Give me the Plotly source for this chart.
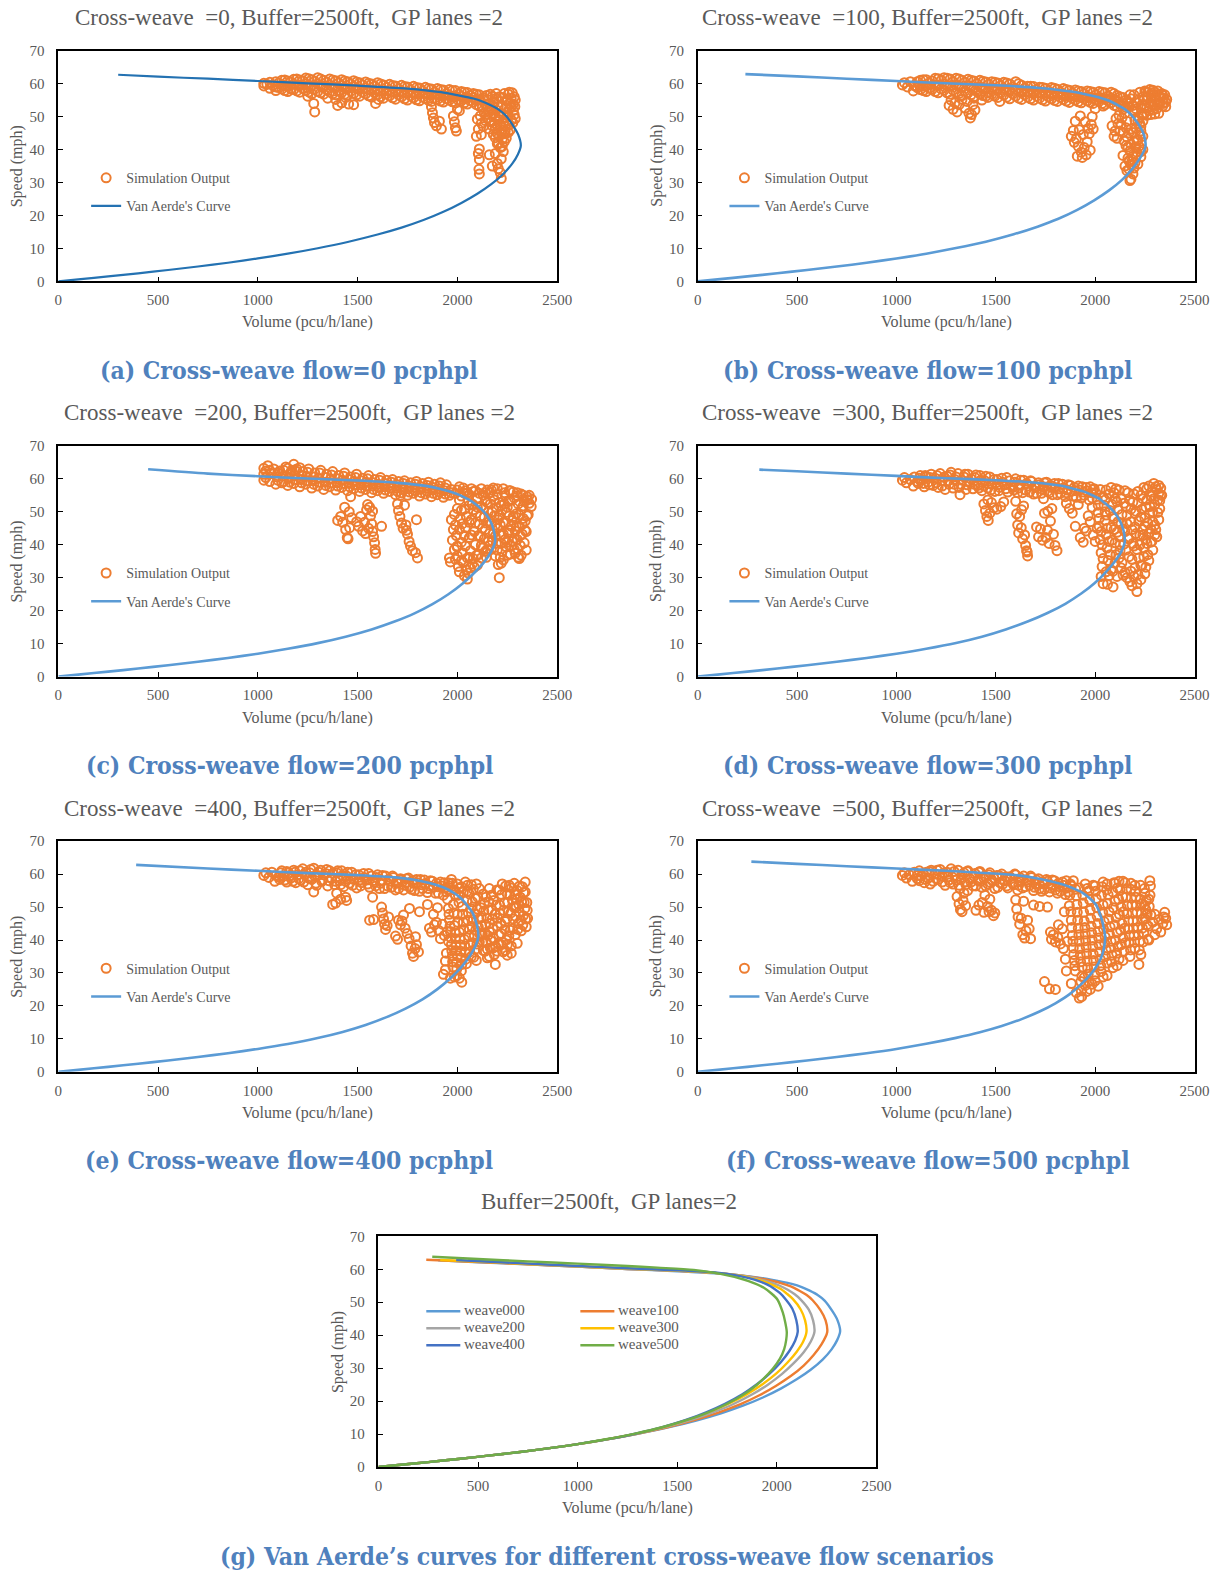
import plotly.graph_objects as go

W, H = 1221, 1573

# ---------------- DATA ----------------
# Van Aerde curves: [volume (pcu/h/lane), speed (mph)]
WEAVE000 = [[0,0],[100,0.6],[250,1.5],[400,2.45],[550,3.45],[700,4.5],[850,5.65],[1000,6.95],[1150,8.4],[1300,10.05],[1450,11.95],[1600,14.2],[1720,16.3],[1830,18.6],[1930,21.1],[2020,23.8],[2100,26.6],[2170,29.5],[2230,32.6],[2275,35.7],[2303,38.5],[2318,41.2],[2305,44.5],[2280,47.2],[2240,50.5],[2205,52.2],[2165,53.5],[2125,54.6],[2080,55.5],[2000,56.5],[1918,57.4],[1750,58.5],[1500,59.4],[1250,60.1],[1000,60.8],[750,61.5],[500,62.1],[300,62.7]]
WEAVE100 = [[0,0],[100,0.6],[250,1.5],[400,2.45],[550,3.45],[700,4.5],[850,5.65],[1000,6.95],[1150,8.4],[1300,10.1],[1450,12.05],[1590,14.3],[1710,16.6],[1815,19.0],[1910,21.7],[1995,24.6],[2070,27.6],[2135,30.8],[2185,34.0],[2225,37.3],[2253,40.9],[2245,44.5],[2220,47.5],[2180,50.6],[2150,52.2],[2110,53.6],[2070,54.8],[2020,55.8],[1950,56.8],[1880,57.6],[1720,58.7],[1500,59.5],[1250,60.1],[1000,60.8],[750,61.5],[500,62.2],[240,62.9]]
WEAVE200 = [[0,0],[100,0.6],[250,1.5],[400,2.45],[550,3.45],[700,4.5],[850,5.65],[1000,6.95],[1150,8.45],[1300,10.15],[1440,12.1],[1570,14.3],[1685,16.7],[1785,19.2],[1875,22.0],[1955,25.0],[2025,28.2],[2085,31.5],[2135,34.8],[2170,38.0],[2189,41.0],[2182,44.5],[2160,47.8],[2120,50.8],[2090,52.4],[2055,53.8],[2015,55.0],[1970,56.0],[1910,57.0],[1850,57.8],[1700,58.8],[1500,59.5],[1250,60.1],[1000,60.8],[750,61.6],[450,62.9]]
WEAVE300 = [[0,0],[100,0.6],[250,1.5],[400,2.45],[550,3.45],[700,4.5],[850,5.65],[1000,6.95],[1150,8.45],[1300,10.2],[1430,12.1],[1550,14.3],[1660,16.7],[1760,19.3],[1850,22.1],[1930,25.2],[1998,28.4],[2055,31.8],[2100,35.0],[2132,38.0],[2149,41.0],[2142,44.5],[2120,47.8],[2080,51.0],[2050,52.6],[2020,54.0],[1980,55.2],[1940,56.2],[1885,57.1],[1830,57.9],[1690,58.9],[1500,59.6],[1250,60.2],[1000,60.9],[750,61.6],[500,62.3],[310,62.8]]
WEAVE400 = [[0,0],[100,0.6],[250,1.5],[400,2.45],[550,3.45],[700,4.5],[850,5.65],[1000,6.95],[1150,8.45],[1300,10.25],[1425,12.1],[1540,14.2],[1645,16.6],[1740,19.2],[1825,22.0],[1900,25.1],[1965,28.4],[2020,31.8],[2063,35.2],[2092,38.3],[2105,41.0],[2098,44.5],[2078,48.0],[2040,51.2],[2015,52.8],[1985,54.2],[1950,55.4],[1910,56.4],[1860,57.3],[1810,58.0],[1690,59.0],[1500,59.7],[1250,60.3],[1000,61.0],[750,61.7],[390,62.8]]
WEAVE500 = [[0,0],[100,0.6],[250,1.5],[400,2.45],[550,3.45],[700,4.5],[850,5.65],[1000,6.95],[1150,8.5],[1300,10.3],[1420,12.0],[1530,13.9],[1630,16.0],[1720,18.3],[1800,20.8],[1870,23.5],[1930,26.6],[1980,29.8],[2015,32.8],[2037,35.8],[2047,38.5],[2050,41.0],[2042,44.0],[2030,46.9],[2002,50.9],[1970,52.8],[1935,54.4],[1885,55.8],[1834,56.9],[1717,58.6],[1583,59.8],[1400,60.5],[1250,61.0],[1000,61.7],[750,62.4],[500,63.1],[270,63.8]]

# Simulation output: [volume, speed]
A_PTS = [
[1030,59.3],[1030,60.1],[1045,59.8],[1060,58.6],[1060,60.4],[1075,59.5],
[1090,57.9],[1090,60.6],[1090,59.0],[1120,58.4],[1120,61.0],[1120,59.6],
[1150,57.6],[1150,60.8],[1150,59.2],[1180,58.2],[1180,61.3],[1180,59.8],
[1210,57.4],[1210,61.1],[1210,59.4],[1240,57.9],[1240,61.7],[1240,60.0],
[1270,56.9],[1270,61.2],[1270,59.3],[1300,57.6],[1300,61.8],[1300,59.9],
[1330,56.8],[1330,61.0],[1330,59.0],[1360,57.5],[1360,61.4],[1360,59.6],
[1390,56.6],[1390,60.9],[1390,58.8],[1420,57.3],[1420,61.2],[1420,59.4],
[1450,56.5],[1450,60.6],[1450,58.6],[1480,57.0],[1480,60.9],[1480,59.1],
[1510,56.2],[1510,60.3],[1510,58.3],[1540,56.9],[1540,60.5],[1540,58.7],
[1570,55.9],[1570,59.9],[1570,58.0],[1600,56.6],[1600,60.3],[1600,58.4],
[1630,55.6],[1630,59.6],[1630,57.8],[1660,56.3],[1660,59.8],[1660,58.1],
[1690,55.3],[1690,59.3],[1690,57.4],[1720,56.0],[1720,59.5],[1720,57.7],
[1750,55.0],[1750,59.0],[1750,57.1],[1780,55.7],[1780,59.2],[1780,57.3],
[1810,54.8],[1810,58.7],[1810,56.8],[1840,55.5],[1840,58.9],[1840,57.0],
[1870,54.6],[1870,58.4],[1870,56.5],[1900,55.2],[1900,58.5],[1900,56.8],
[1930,54.4],[1930,58.1],[1930,56.2],[1960,55.0],[1960,58.2],[1960,56.5],
[1990,54.2],[1990,57.9],[1990,56.0],[2020,54.8],[2020,57.6],[2020,56.2],
[2050,53.8],[2050,57.3],[2050,55.6],[2080,54.4],[2080,57.0],[2080,55.8],
[2110,53.2],[2110,56.6],[2110,55.0],
[2130,55.8],[2135,51.2],[2140,53.8],[2150,49.6],[2155,55.0],[2165,52.6],[2170,48.4],[2180,50.8],[2185,54.2],[2190,46.6],[2195,52.0],[2200,44.8],[2205,49.2],[2210,56.0],[2215,47.4],[2220,53.4],[2225,43.2],[2230,50.6],[2235,57.0],[2240,45.6],[2245,54.8],[2250,48.8],[2255,56.8],[2260,52.2],[2265,46.0],[2270,55.6],[2275,57.2],[2280,53.8],[2285,56.0],[2290,55.0],[2285,50.6],[2290,49.4],[2278,48.2],[2255,45.2],[2235,42.4],[2215,40.6],[2200,41.8],[2230,39.4],[2160,54.0],[2175,56.2],[2195,57.0],[2260,57.4],[2270,53.0],[2250,51.2],[2240,47.0],[2220,45.0],[2210,50.0],[2190,50.0],[2170,51.8],[2150,53.0],[2145,56.4],
[2100,49.2],[2105,46.2],[2095,44.0],[2110,40.2],[2105,38.8],[2110,37.0],[2108,34.0],[2110,32.6],[2175,35.0],[2190,38.8],[2200,35.8],[2205,34.2],[2220,37.2],[2215,33.0],[2220,31.2],[2160,38.4],[2180,44.6],[2130,47.0],[2120,44.5],
[1280,54.0],[1285,51.4],[1390,55.2],[1400,53.4],[1420,54.2],[1440,55.8],[1455,53.8],[1480,53.6],[1590,54.0],[1605,55.2],[1350,55.6],[1250,56.2],
[1870,53.0],[1875,51.2],[1880,49.6],[1885,48.2],[1895,47.2],[1920,46.2],[1910,48.6],[1980,50.2],[1985,48.4],[1990,46.6],[1995,45.6],[2000,52.2],[2010,51.8]]
A_BAND2 = [
[1105,58.8],[1105,60.2],[1135,57.9],[1135,61.1],[1135,59.4],[1165,58.4],[1165,60.6],[1195,57.8],[1195,61.4],[1195,59.6],[1225,58.6],[1225,60.9],[1255,57.5],[1255,61.5],[1255,59.5],[1285,58.4],[1285,60.7],[1315,57.2],[1315,61.4],[1315,59.4],[1345,58.2],[1345,60.4],[1375,56.9],[1375,61.1],[1375,59.1],[1405,57.9],[1405,60.2],[1435,56.8],[1435,60.8],[1435,58.8],[1465,57.7],[1465,59.9],[1495,56.6],[1495,60.5],[1495,58.6],[1525,57.4],[1525,59.6],[1555,56.3],[1555,60.1],[1555,58.2],[1585,57.2],[1585,59.2],[1615,56.0],[1615,59.9],[1615,57.9],[1645,56.9],[1645,58.8],[1675,55.7],[1675,59.4],[1675,57.5],[1705,56.6],[1705,58.4],[1735,55.4],[1735,59.1],[1735,57.2],[1765,56.3],[1765,58.1],[1795,55.1],[1795,58.8],[1795,56.9],[1825,55.9],[1825,57.8],[1855,54.9],[1855,58.5],[1855,56.6],[1885,55.6],[1885,57.4],[1915,54.7],[1915,58.2],[1915,56.3],[1945,55.4],[1945,57.0],[1975,54.5],[1975,57.9],[1975,56.0],[2005,55.0],[2005,56.8],[2035,54.2],[2035,57.4],[2035,55.6],[2065,54.8],[2065,56.4],[2095,53.6],[2095,56.8],[2095,55.2]]
A_CLUSTER2 = [[2125,53.0],[2135,55.0],[2145,50.6],[2160,51.6],[2165,56.8],[2175,53.4],[2185,48.0],[2195,55.6],[2200,47.2],[2205,53.0],[2215,51.0],[2225,55.8],[2230,48.0],[2240,52.6],[2245,49.8],[2250,55.4],[2255,50.4],[2265,54.0],[2270,49.0],[2280,51.8],[2288,53.0],[2260,47.6],[2225,46.0],[2245,43.4],[2210,44.0],[2190,43.6],[2205,42.0],[2225,41.0],[2235,44.8],[2115,50.2],[2120,48.0],[2140,48.8],[2160,46.2],[2175,47.2]]

B_PTS = [
[1030,59.6],[1040,60.3],[1055,59.0],[1070,60.6],[1085,57.8],[1090,59.4],
[1120,58.2],[1120,61.0],[1120,59.6],[1150,57.6],[1150,61.2],[1150,59.3],
[1180,58.3],[1180,60.8],[1210,57.2],[1210,61.5],[1210,59.4],[1240,58.0],[1240,61.8],[1240,59.9],
[1270,56.8],[1270,61.4],[1270,59.2],[1300,57.4],[1300,61.6],[1300,59.6],
[1330,56.4],[1330,61.0],[1330,58.8],[1360,57.2],[1360,61.3],[1360,59.4],
[1390,56.0],[1390,60.8],[1390,58.5],[1420,56.9],[1420,61.0],[1420,59.0],
[1450,56.2],[1450,60.5],[1450,58.4],[1480,56.8],[1480,60.6],[1480,58.8],
[1510,55.8],[1510,60.2],[1510,58.1],[1540,56.5],[1540,60.4],[1540,58.5],
[1570,55.4],[1570,59.9],[1570,57.8],[1600,56.2],[1600,60.6],[1600,58.2],
[1630,55.2],[1630,59.5],[1630,57.4],[1660,55.9],[1660,59.2],[1660,57.6],
[1690,55.0],[1690,59.1],[1690,57.0],[1720,55.6],[1720,58.9],[1720,57.3],
[1750,54.7],[1750,58.6],[1750,56.6],[1780,55.4],[1780,58.8],[1780,56.9],
[1810,54.6],[1810,58.3],[1810,56.3],[1840,55.2],[1840,58.5],[1840,56.6],
[1870,54.3],[1870,58.0],[1870,56.0],[1900,55.0],[1900,58.1],[1900,56.4],
[1930,54.2],[1930,57.6],[1930,55.8],[1960,54.8],[1960,57.8],[1960,56.0],
[1990,54.0],[1990,57.4],[1990,55.6],[2020,54.6],[2020,57.6],[2020,55.8],
[2050,53.6],[2050,57.2],[2050,55.3],[2080,54.2],[2080,57.4],[2080,55.6],
[2110,53.0],[2110,56.4],[2110,54.8],[2140,52.2],[2140,55.8],[2140,54.0],
[2170,53.0],[2180,55.4],[2200,51.4],[2210,54.2],[2230,52.6],[2240,56.0],[2250,53.4],[2255,57.6],[2260,55.0],[2270,51.8],[2275,58.2],[2280,56.4],[2290,53.6],[2300,57.4],[2305,55.2],[2310,52.4],[2320,56.6],[2325,54.2],[2335,57.0],[2340,53.2],[2345,55.6],[2355,54.4],[2360,55.2],[2355,53.0],[2290,58.0],[2265,57.4],[2245,50.6],[2220,49.6],[2300,50.8],[2320,51.0],
[2085,47.2],[2095,44.0],[2110,43.4],[2120,50.4],[2130,47.6],[2140,45.2],[2140,38.2],[2150,35.0],[2155,41.2],[2160,43.8],[2165,37.4],[2170,34.0],[2175,39.6],[2180,31.0],[2185,36.4],[2190,32.6],[2195,42.4],[2200,36.0],[2205,46.4],[2210,39.2],[2215,48.8],[2220,41.0],[2225,44.4],[2230,47.0],[2230,37.8],[2240,44.0],[2235,50.4],[2200,49.0],[2180,46.2],[2160,48.6],[2150,51.0],[2190,52.0],[2215,35.6],[2175,30.6],[2160,33.6],
[1265,53.4],[1275,55.0],[1285,52.2],[1295,54.2],[1305,51.4],[1315,53.6],[1330,55.2],[1345,52.6],[1355,54.6],[1365,51.0],[1372,49.6],[1378,50.6],[1385,53.6],[1390,55.6],[1430,55.0],[1460,55.8],[1520,54.6],[1395,52.0],
[1880,44.0],[1890,45.8],[1900,48.6],[1905,43.2],[1915,41.0],[1920,46.0],[1925,50.2],[1930,39.2],[1935,37.6],[1940,44.6],[1945,40.6],[1955,38.4],[1960,42.4],[1965,46.4],[1970,44.8],[1975,39.8],[1980,47.6],[1985,50.0],[1990,46.2],[1950,48.4],[1910,38.0],[1895,42.2],[2000,52.4],[2040,53.2]]
B_BAND2 = [[1105,58.8],[1105,60.6],[1135,57.9],[1135,61.2],[1135,59.4],[1165,58.6],[1165,60.2],[1195,57.6],[1195,61.6],[1195,59.6],[1225,58.4],[1225,61.0],[1255,57.2],[1255,61.6],[1255,59.4],[1285,58.0],[1285,60.6],[1315,57.0],[1315,61.4],[1315,59.2],[1345,57.8],[1345,60.4],[1375,56.6],[1375,61.0],[1375,58.9],[1405,57.6],[1405,60.0],[1435,56.4],[1435,60.7],[1435,58.6],[1465,57.4],[1465,59.8],[1495,56.2],[1495,60.4],[1495,58.4],[1525,57.2],[1525,59.4],[1555,55.9],[1555,60.2],[1555,58.0],[1585,56.9],[1585,59.0],[1615,55.6],[1615,60.0],[1615,57.8],[1645,56.6],[1645,58.6],[1675,55.4],[1675,59.2],[1675,57.3],[1705,56.2],[1705,58.2],[1735,55.1],[1735,58.8],[1735,57.0],[1765,56.0],[1765,57.8],[1795,54.9],[1795,58.6],[1795,56.7],[1825,55.8],[1825,57.4],[1855,54.7],[1855,58.2],[1855,56.3],[1885,55.6],[1885,57.1],[1915,54.5],[1915,57.8],[1915,56.1],[1945,55.4],[1945,56.9],[1975,54.3],[1975,57.6],[1975,55.8],[2005,55.0],[2005,56.6],[2035,54.0],[2035,57.4],[2035,55.5],[2065,54.8],[2065,56.2],[2095,53.4],[2095,57.0],[2095,55.2],[2125,53.8],[2125,56.0],[2155,52.8],[2155,55.0]]
B_CLUSTER2 = [[2165,54.4],[2175,56.6],[2190,53.4],[2195,56.6],[2205,52.4],[2220,55.2],[2225,57.4],[2235,53.6],[2245,55.0],[2250,57.8],[2260,52.8],[2265,56.0],[2275,54.0],[2285,57.2],[2290,52.0],[2295,55.6],[2310,54.0],[2315,57.8],[2320,53.6],[2330,55.8],[2340,56.4],[2345,54.0],[2350,56.6],[2280,50.6],[2260,50.4],[2240,48.6],[2230,45.6],[2215,43.0],[2205,40.8],[2190,45.2],[2180,41.6],[2170,45.0],[2165,40.8],[2155,46.6],[2145,42.6],[2135,49.6],[2125,45.6],[2115,47.8],[2100,45.6],[2105,49.4],[2190,38.0],[2180,35.4],[2205,38.0],[2170,36.6],[2195,34.4],[2210,42.6],[2225,47.8],[2240,40.0],[2230,39.4]]

C_PTS = [
[1030,59.6],[1030,61.4],[1030,63.2],[1040,60.4],[1040,62.4],[1050,64.0],[1060,59.2],[1065,61.6],[1080,63.0],[1090,58.4],[1095,60.6],
[1110,62.4],[1120,58.8],[1125,60.8],[1140,63.6],[1150,58.0],[1155,60.2],[1165,62.0],[1180,64.4],[1180,58.6],[1185,61.0],[1195,63.0],
[1210,57.6],[1215,59.8],[1225,62.2],[1240,58.4],[1245,60.8],[1255,63.0],[1270,57.2],[1275,59.4],[1285,61.8],[1300,57.8],[1305,60.2],[1315,62.6],
[1330,56.8],[1335,59.0],[1345,61.4],[1360,57.6],[1365,60.0],[1375,62.2],[1390,56.6],[1395,58.8],[1405,61.0],[1420,57.4],[1425,59.6],[1435,61.8],
[1450,56.4],[1455,58.6],[1465,60.6],[1480,57.0],[1485,59.2],[1495,61.4],[1510,56.2],[1515,58.2],[1525,60.2],[1540,56.8],[1545,59.0],[1555,61.0],
[1570,55.8],[1575,57.8],[1585,59.8],[1600,56.4],[1605,58.4],[1615,60.4],[1630,55.6],[1635,57.6],[1645,59.6],[1660,56.2],[1665,58.0],[1675,59.8],
[1690,55.2],[1695,57.2],[1705,59.2],[1720,55.8],[1725,57.6],[1735,59.4],[1750,55.0],[1755,57.0],[1765,58.8],[1780,55.6],[1785,57.4],[1795,59.2],
[1810,54.8],[1815,56.8],[1825,58.6],[1840,55.4],[1845,57.2],[1855,59.0],[1870,54.6],[1875,56.6],[1885,58.4],[1900,55.2],[1905,57.0],[1915,58.8],
[1930,54.4],[1935,56.4],[1945,58.2],[1960,55.0],[1970,56.8],[1990,55.6],[2010,57.6],[2020,54.8],[2040,56.4],[2060,55.2],[2070,57.0],
[1985,49.2],[1990,46.0],[1995,42.8],[1998,39.4],[2000,36.6],[1990,35.6],[1960,36.0],[2005,33.4],[2010,44.6],[2015,48.0],[2020,40.8],[2025,37.6],[2030,34.6],[2035,50.8],[2040,45.2],[2045,32.4],[2050,29.6],[2055,31.4],[2060,42.2],[2065,38.2],[2070,47.6],[2075,52.4],[2080,35.8],[2085,44.0],[2090,40.0],[2095,49.6],[2100,54.2],[2105,37.0],[2110,46.2],[2115,42.6],[2120,51.6],[2125,39.0],[2130,55.0],[2135,48.4],[2140,44.6],[2145,36.2],[2150,52.8],[2155,41.0],[2160,47.2],[2165,55.8],[2170,38.6],[2175,50.0],[2180,43.4],[2185,53.6],[2190,46.0],[2195,40.4],[2200,55.2],[2205,34.0],[2210,30.0],[2210,49.0],[2215,43.0],[2220,52.0],[2225,38.0],[2230,46.8],[2235,55.8],[2240,41.6],[2245,49.8],[2250,36.8],[2255,53.2],[2260,44.4],[2265,56.4],[2270,39.6],[2275,47.4],[2280,51.2],[2285,42.0],[2290,37.4],[2295,45.6],[2300,54.8],[2305,36.2],[2310,49.0],[2315,42.8],[2320,55.4],[2325,46.2],[2330,51.8],[2335,40.6],[2340,47.2],[2345,44.0],[2350,53.6],[2360,55.0],[2370,51.6],[2372,53.8],[2355,49.2],[2345,38.4],[2120,57.0],[2150,56.6],[2180,57.2],[2090,56.4],[2060,52.0],[2040,39.6],[2010,31.8],[2200,45.0],[2240,55.0],[2280,56.0],[2230,35.4],
[1400,47.4],[1415,48.6],[1425,46.8],[1435,51.4],[1440,44.6],[1448,42.2],[1452,41.8],[1460,45.2],[1470,48.2],[1465,54.6],[1458,50.0],
[1495,47.0],[1505,45.6],[1515,48.6],[1525,44.2],[1535,46.8],[1545,50.6],[1550,52.2],[1560,51.4],[1565,48.8],[1570,46.4],[1575,44.0],[1580,42.4],[1585,40.6],[1588,38.6],[1590,37.4],[1575,50.2],[1555,45.0],[1620,45.6],[1540,43.4],
[1700,52.4],[1705,50.4],[1712,48.6],[1720,46.6],[1728,45.0],[1735,52.0],[1742,46.0],[1750,43.2],[1758,41.0],[1765,39.6],[1775,38.2],[1790,37.6],[1800,36.0],[1795,47.6],[1715,55.0],[1745,44.4]]
C_BAND2 = [[1100,59.6],[1100,61.8],[1130,59.2],[1130,62.6],[1160,59.0],[1160,61.4],[1190,59.8],[1190,62.4],[1220,58.8],[1220,61.0],[1250,59.4],[1250,62.0],[1280,58.4],[1280,60.6],[1310,59.0],[1310,61.8],[1340,58.0],[1340,60.4],[1370,58.8],[1370,61.2],[1400,57.8],[1400,60.0],[1430,58.6],[1430,60.8],[1460,57.6],[1460,59.8],[1490,58.2],[1490,60.4],[1520,57.2],[1520,59.4],[1550,57.8],[1550,60.0],[1580,56.8],[1580,58.8],[1610,57.4],[1610,59.6],[1640,56.6],[1640,58.6],[1670,57.2],[1670,59.0],[1700,56.2],[1700,58.2],[1730,56.8],[1730,58.6],[1760,56.0],[1760,57.8],[1790,56.4],[1790,58.4],[1820,55.8],[1820,57.6],[1850,56.2],[1850,58.0],[1880,55.6],[1880,57.4],[1910,56.0],[1910,57.8],[1940,55.4],[1940,57.2],[1970,55.8],[2000,56.6],[2030,55.8],[2030,57.2],[2050,55.6],[2080,56.2],[1080,61.6],[1060,62.6],[1150,63.2],[1210,63.4],[1170,62.6]]
C_CLUSTER2 = [[2000,51.0],[2010,53.6],[2020,50.4],[2025,46.4],[2035,42.8],[2045,48.6],[2050,36.0],[2055,53.4],[2060,46.8],[2070,43.0],[2075,34.2],[2080,50.6],[2090,46.6],[2095,36.8],[2100,51.4],[2105,42.8],[2110,55.6],[2115,48.6],[2120,39.8],[2125,45.0],[2130,51.0],[2135,41.8],[2140,53.4],[2145,46.6],[2150,38.6],[2155,50.0],[2160,43.4],[2165,52.4],[2170,46.4],[2175,41.2],[2180,54.8],[2185,48.8],[2190,42.6],[2195,51.2],[2200,38.4],[2205,47.6],[2210,52.8],[2215,46.0],[2220,40.4],[2225,50.6],[2230,43.2],[2235,52.4],[2240,46.6],[2245,39.4],[2250,51.4],[2255,43.6],[2260,48.8],[2265,53.4],[2270,45.6],[2275,41.0],[2280,48.6],[2285,54.2],[2290,44.2],[2295,49.4],[2300,41.6],[2305,52.4],[2310,45.4],[2315,39.8],[2320,50.6],[2325,43.2],[2330,48.0],[2335,53.4],[2340,44.4],[2350,48.8],[2360,52.6],[2300,38.8],[2320,36.8],[2310,35.8],[2285,38.6],[2265,37.2],[2250,40.8],[2220,34.4],[2215,36.2],[2190,36.6],[2160,39.8],[2140,38.0],[2120,36.0],[2100,33.8],[2085,33.2],[2065,33.0],[2035,30.6],[2060,36.2],[1985,38.6],[1975,41.4],[1980,44.6],[1970,47.6],[2000,39.6],[2020,35.2],[1965,34.8],[2140,55.8],[2170,56.6],[2200,57.0],[2230,57.0],[2260,56.4],[2300,55.8],[2330,55.0],[2350,54.6]]

D_PTS = [
[1030,59.6],[1040,60.4],[1050,58.8],[1070,59.8],[1085,57.8],[1090,60.6],
[1110,58.6],[1120,61.0],[1125,59.6],[1140,57.6],[1150,60.6],[1160,59.0],[1175,61.4],[1185,58.0],[1195,60.2],
[1210,57.4],[1220,61.6],[1230,59.4],[1245,56.8],[1255,60.8],[1265,58.4],[1275,62.0],[1285,57.2],[1295,59.8],
[1310,61.6],[1320,55.2],[1325,58.4],[1340,60.6],[1350,56.8],[1360,61.4],[1370,58.8],[1385,57.0],[1395,60.4],
[1410,58.0],[1420,61.0],[1430,56.4],[1445,59.4],[1460,57.2],[1470,60.6],[1480,58.4],[1495,56.2],[1505,59.8],
[1520,57.4],[1530,60.2],[1545,58.2],[1560,56.0],[1570,59.4],[1585,57.4],[1600,60.0],[1610,55.8],[1620,58.2],
[1640,59.6],[1650,56.6],[1665,57.8],[1680,59.2],[1690,55.4],[1700,57.4],[1715,58.8],[1730,55.6],[1740,57.6],
[1755,59.0],[1770,55.8],[1780,57.4],[1795,58.6],[1810,55.2],[1820,57.0],[1835,58.4],[1850,54.6],[1860,56.6],
[1875,58.0],[1890,54.8],[1900,56.4],[1915,57.8],[1930,54.2],[1940,56.0],[1955,57.4],[1970,53.6],[1980,55.8],[1995,57.0],
[2010,53.8],[2015,49.8],[2020,45.6],[2025,41.6],[2030,37.6],[2030,30.4],[2035,33.4],[2040,28.2],[2045,52.0],[2050,47.4],[2055,43.0],[2060,39.0],[2062,28.0],[2065,35.2],[2070,55.4],[2075,50.4],[2080,45.2],[2085,41.4],[2090,32.0],[2095,48.0],[2100,54.0],[2105,37.0],[2110,43.8],[2115,50.8],[2120,56.6],[2125,40.0],[2130,46.6],[2135,34.6],[2140,30.8],[2145,52.6],[2150,44.0],[2155,38.4],[2160,49.0],[2165,55.8],[2170,41.8],[2175,28.8],[2180,47.0],[2185,35.6],[2190,53.0],[2195,39.6],[2200,45.4],[2205,50.2],[2210,28.2],[2210,25.8],[2215,56.2],[2220,36.0],[2225,42.8],[2230,48.4],[2235,33.6],[2240,54.0],[2245,39.0],[2250,45.8],[2255,51.4],[2260,57.0],[2265,37.0],[2270,43.4],[2275,49.6],[2280,54.8],[2285,41.0],[2290,47.0],[2295,58.6],[2300,52.2],[2305,44.6],[2310,56.8],[2315,49.8],[2320,58.0],[2325,53.4],[2330,57.2],[2335,55.0],[2320,47.6],[2310,42.4],[2260,40.4],[2240,44.6],[2200,33.0],[2150,31.6],[2120,36.0],[2090,27.2],[2270,35.2],[2250,31.2],[2180,32.0],[2050,50.0],[2010,45.0],[2000,41.0],[1990,43.0],
[1440,52.4],[1448,50.4],[1455,48.6],[1462,47.4],[1470,49.6],[1478,52.8],[1490,51.2],[1505,50.8],[1525,51.6],[1540,53.0],[1460,53.6],
[1600,53.2],[1605,49.4],[1610,46.0],[1615,43.6],[1620,48.6],[1628,45.2],[1635,41.8],[1640,51.8],[1645,43.0],[1650,39.8],[1655,38.2],[1660,36.6],[1658,37.8],[1630,50.6],
[1705,45.4],[1715,42.4],[1725,44.8],[1735,41.4],[1745,49.6],[1752,42.2],[1760,44.4],[1768,40.4],[1775,47.2],[1782,51.0],[1790,43.2],[1798,39.8],[1808,38.2],[1762,50.2],[1740,54.0],
[1855,52.6],[1870,51.0],[1885,49.6],[1900,45.6],[1915,52.2],[1925,42.2],[1940,40.8],[1955,44.2],[1965,48.8],[1975,47.0],[1985,51.4],[1945,45.0]]
D_BAND2 = [[1105,59.2],[1115,60.2],[1135,58.6],[1145,61.0],[1165,58.2],[1170,60.4],[1200,58.8],[1205,61.0],[1230,57.8],[1240,60.6],[1260,59.4],[1270,61.2],[1290,58.4],[1300,60.6],[1315,57.4],[1330,59.6],[1345,61.4],[1355,58.2],[1375,60.0],[1390,58.4],[1400,61.2],[1415,57.2],[1425,59.6],[1440,57.8],[1450,60.8],[1465,58.6],[1475,56.6],[1490,59.8],[1510,58.2],[1515,56.4],[1535,59.0],[1550,57.0],[1555,60.4],[1575,58.0],[1590,56.6],[1595,59.0],[1615,57.2],[1625,59.6],[1635,55.8],[1655,58.6],[1670,56.0],[1675,59.4],[1695,57.6],[1705,55.6],[1720,58.2],[1735,56.8],[1745,58.8],[1760,56.2],[1775,58.0],[1785,55.2],[1800,57.4],[1815,58.6],[1825,55.6],[1840,57.2],[1855,55.8],[1865,58.2],[1880,56.2],[1895,57.4],[1905,54.4],[1920,56.6],[1935,57.6],[1945,55.0],[1960,56.4],[1975,57.6],[1985,54.2],[1990,56.8],[2005,55.6],[2025,56.8],[2040,54.6],[2055,56.6],[2080,57.4],[2095,55.8]]
D_CLUSTER2 = [[2015,52.0],[2020,48.0],[2030,44.0],[2035,40.0],[2040,35.8],[2050,53.6],[2055,49.0],[2060,45.0],[2070,41.0],[2075,37.0],[2080,32.4],[2085,52.2],[2090,48.6],[2095,44.6],[2100,40.6],[2105,57.0],[2110,53.0],[2115,47.0],[2120,42.4],[2125,38.2],[2130,54.0],[2135,49.2],[2140,44.8],[2145,40.2],[2150,56.4],[2155,51.6],[2160,46.4],[2165,42.0],[2170,36.4],[2175,53.6],[2180,50.8],[2185,44.6],[2190,40.4],[2195,55.4],[2200,49.6],[2205,43.4],[2210,38.6],[2215,52.8],[2220,47.2],[2225,40.0],[2230,55.0],[2235,50.8],[2240,43.0],[2245,57.4],[2250,48.2],[2255,41.6],[2260,53.6],[2265,46.6],[2270,57.8],[2275,51.6],[2280,44.8],[2285,56.0],[2290,50.0],[2295,54.0],[2300,46.0],[2305,57.6],[2315,53.6],[2320,55.6],[2330,55.2],[2325,51.0],[2300,43.0],[2280,40.8],[2290,38.4],[2245,36.4],[2230,33.8],[2215,31.0],[2195,30.4],[2160,30.0],[2130,33.0],[2110,30.4],[2100,34.4],[2070,30.6],[2055,31.8],[2185,27.6],[2230,29.4],[2255,33.2]]

E_PTS = [
[1030,59.6],[1040,60.4],[1055,59.0],[1070,60.6],[1085,57.8],[1090,59.6],
[1110,58.4],[1120,61.0],[1130,59.4],[1145,57.6],[1155,60.4],[1165,58.8],[1180,61.2],[1190,57.4],[1200,59.8],
[1215,58.2],[1225,61.6],[1235,59.8],[1250,56.8],[1260,60.4],[1270,58.4],[1280,61.8],[1290,57.2],[1300,59.6],
[1315,61.2],[1325,58.2],[1340,60.2],[1350,56.4],[1360,61.0],[1370,58.6],[1385,56.8],[1395,60.4],[1410,58.0],
[1420,61.0],[1430,56.2],[1445,59.4],[1460,57.2],[1470,60.6],[1480,58.4],[1495,55.8],[1505,59.8],[1520,57.4],
[1530,60.2],[1545,58.2],[1560,56.0],[1570,59.4],[1585,57.4],[1600,59.8],[1610,55.6],[1620,58.0],[1640,59.4],
[1650,56.4],[1665,57.8],[1680,59.0],[1690,55.2],[1700,57.2],[1715,58.6],[1730,55.2],[1740,57.4],[1755,58.8],
[1770,55.4],[1780,57.2],[1795,58.4],[1810,54.8],[1820,56.8],[1835,58.2],[1850,54.4],[1860,56.4],[1875,57.8],
[1890,54.2],[1900,56.2],[1915,57.6],[1930,53.6],[1940,55.8],[1955,57.4],[1970,58.4],[1985,55.2],[2000,57.0],[2020,56.2],[2040,57.6],[2060,54.0],[2070,56.8],
[1950,52.4],[1955,49.6],[1960,46.0],[1965,42.6],[1970,38.6],[1975,35.2],[1978,31.8],[1980,50.8],[1985,44.4],[1990,40.4],[1993,36.8],[1995,33.2],[1998,29.2],[2000,47.8],[2005,53.6],[2010,42.4],[2015,38.6],[2018,34.6],[2020,30.6],[2022,27.2],[2025,50.2],[2030,45.4],[2035,40.2],[2040,36.2],[2045,32.8],[2050,54.8],[2055,48.2],[2060,43.2],[2065,38.4],[2070,35.0],[2075,51.6],[2080,46.2],[2085,41.4],[2090,37.2],[2095,33.8],[2100,49.4],[2105,44.0],[2110,39.4],[1930,29.6],[1940,31.0],[1965,28.4],[2010,28.4],[1945,36.0],[1935,41.4],[1925,44.8],[1955,39.6],
[2120,46.8],[2125,42.0],[2130,36.8],[2135,51.0],[2140,44.6],[2145,39.4],[2150,34.6],[2155,49.2],[2160,42.6],[2165,37.6],[2170,53.6],[2175,46.4],[2180,40.6],[2185,35.6],[2190,32.6],[2195,50.6],[2200,44.2],[2205,38.8],[2210,55.2],[2215,48.0],[2220,42.0],[2225,57.0],[2230,36.4],[2235,51.4],[2240,45.6],[2245,40.0],[2250,54.0],[2255,48.6],[2260,56.6],[2265,43.0],[2270,38.2],[2275,52.2],[2280,46.4],[2285,57.2],[2290,41.6],[2295,50.0],[2300,55.0],[2305,45.0],[2310,48.6],[2315,53.0],[2320,42.8],[2325,56.2],[2330,47.4],[2335,51.4],[2340,57.6],[2345,44.0],[2350,49.0],[2352,46.6],[2340,54.6],[2300,39.0],[2250,35.4],[2200,36.6],[2160,55.6],[2130,54.0],[2110,55.6],[2090,52.6],[2240,36.8],
[1280,54.6],[1375,50.8],[1390,51.2],[1415,52.4],[1440,53.0],[1445,52.0],[1560,46.0],[1580,46.2],[1575,53.0],[1395,54.2],
[1620,50.0],[1625,48.2],[1630,46.4],[1635,44.8],[1640,43.2],[1648,44.4],[1655,47.0],
[1690,41.2],[1700,40.2],[1705,46.0],[1715,44.6],[1722,45.8],[1730,47.6],[1738,43.6],[1748,42.0],[1758,40.4],[1768,38.2],[1775,36.0],[1780,35.0],[1788,37.4],[1795,38.6],[1805,36.4],[1790,41.0],[1810,48.6],[1760,49.6],
[1850,50.8],[1860,43.6],[1870,42.4],[1885,44.6],[1895,45.4],[1905,43.0],[1915,40.4],[1900,49.8],[1880,47.8]]
E_BAND2 = [[1105,59.2],[1115,60.4],[1135,58.2],[1145,60.8],[1160,59.6],[1175,57.8],[1185,60.6],[1205,58.6],[1210,61.0],[1230,57.6],[1240,60.6],[1255,58.8],[1265,61.4],[1285,59.4],[1295,56.6],[1305,60.6],[1320,57.8],[1330,59.8],[1345,61.4],[1355,58.0],[1375,60.2],[1390,57.8],[1400,61.0],[1415,56.8],[1425,59.6],[1440,57.8],[1450,60.6],[1465,58.6],[1475,56.6],[1490,59.8],[1510,58.2],[1515,56.4],[1535,59.0],[1550,57.0],[1555,60.2],[1575,58.0],[1590,56.4],[1595,59.0],[1615,57.2],[1625,59.6],[1635,55.6],[1655,58.4],[1670,56.0],[1675,59.4],[1695,57.6],[1705,55.6],[1720,58.2],[1735,56.6],[1745,58.6],[1760,56.0],[1775,58.0],[1785,55.0],[1800,57.4],[1815,58.4],[1825,55.6],[1840,57.2],[1855,55.6],[1865,58.0],[1880,56.0],[1895,57.2],[1905,54.2],[1920,56.4],[1935,57.4],[1945,54.6],[1960,56.4],[1975,57.2],[1990,53.8],[2010,55.6],[2030,54.6],[2050,56.6],[2080,55.4],[2095,57.0]]
E_CLUSTER2 = [[1952,55.4],[1958,47.8],[1963,44.2],[1968,40.6],[1972,36.8],[1976,33.4],[1982,48.2],[1988,42.2],[1992,38.4],[1997,31.2],[2002,45.4],[2008,51.4],[2012,40.4],[2017,36.6],[2022,32.6],[2027,47.8],[2032,43.2],[2037,38.2],[2042,34.2],[2048,52.0],[2052,46.0],[2058,41.2],[2062,36.4],[2068,49.6],[2072,44.2],[2078,39.2],[2082,34.8],[2088,48.0],[2092,43.0],[2098,38.8],[2102,53.0],[2108,46.4],[2112,41.8],[2118,49.8],[2122,44.4],[2128,39.6],[2132,48.8],[2138,42.2],[2142,53.0],[2148,46.6],[2152,41.4],[2158,51.6],[2162,45.0],[2168,39.8],[2172,49.0],[2178,43.4],[2182,52.0],[2188,47.8],[2192,38.0],[2198,55.2],[2202,46.6],[2208,41.6],[2212,50.6],[2218,45.0],[2222,53.8],[2228,39.2],[2232,49.0],[2238,43.2],[2242,56.4],[2248,46.4],[2252,51.4],[2258,41.4],[2262,53.6],[2268,48.2],[2272,55.8],[2278,43.4],[2282,50.0],[2288,53.8],[2292,47.2],[2298,52.4],[2302,43.2],[2308,50.8],[2312,56.4],[2318,46.0],[2322,51.6],[2328,44.6],[2332,54.4],[2338,49.6],[2342,46.4],[2348,51.4],[2270,36.0],[2250,38.6],[2220,38.6],[2180,37.6],[2150,37.2],[2120,41.4],[2140,36.6],[2160,35.0],[1940,33.6],[1950,42.6],[1985,28.8],[2000,35.2]]

F_PTS = [
[1030,59.6],[1040,60.4],[1050,58.8],[1065,59.8],[1080,57.8],[1090,60.6],
[1105,58.6],[1115,61.0],[1125,59.4],[1140,57.4],[1150,60.6],[1160,58.8],[1175,61.2],[1185,57.8],[1195,60.0],
[1210,58.4],[1220,61.4],[1230,59.4],[1245,56.6],[1255,60.6],[1265,58.2],[1275,61.6],[1285,57.0],[1295,59.6],
[1310,61.2],[1320,55.6],[1325,58.4],[1340,60.4],[1350,56.8],[1360,61.0],[1370,58.6],[1385,56.4],[1395,60.2],
[1410,58.0],[1420,60.8],[1430,56.0],[1445,59.4],[1460,57.0],[1470,60.4],[1480,58.2],[1495,55.6],[1505,59.6],
[1520,57.4],[1530,60.0],[1545,58.0],[1560,55.8],[1570,59.2],[1585,57.2],[1600,59.8],[1610,55.2],[1620,57.8],
[1640,59.4],[1650,56.2],[1665,57.6],[1680,59.0],[1690,55.0],[1700,57.0],[1715,58.6],[1730,54.8],[1740,57.0],
[1755,58.4],[1770,54.6],[1780,56.6],[1795,58.0],[1810,54.2],[1820,56.2],[1835,57.6],[1850,53.8],[1860,55.8],[1875,57.0],
[1870,50.4],[1880,46.0],[1885,41.4],[1890,37.6],[1895,33.8],[1900,30.6],[1905,53.4],[1910,48.4],[1915,43.6],[1920,39.6],[1925,35.4],[1928,27.4],[1930,24.6],[1932,22.8],[1935,31.8],[1940,51.2],[1945,45.8],[1950,41.8],[1955,37.8],[1958,24.4],[1960,33.6],[1965,29.6],[1970,55.0],[1975,49.0],[1980,44.2],[1985,40.0],[1990,35.8],[1995,31.8],[2000,27.6],[2005,52.6],[2010,47.2],[2015,42.6],[2020,38.6],[2025,34.2],[2030,30.4],[2035,56.2],[2040,50.6],[2045,45.6],[2050,41.0],[2055,37.0],[2060,33.0],[2065,53.8],[2070,48.6],[2075,44.0],[2080,39.6],[2085,35.4],[2090,31.6],[2095,57.4],[2100,51.8],[2105,46.8],[2110,42.2],[2115,38.0],[2120,34.2],[2125,55.2],[2130,50.0],[2135,45.0],[2140,40.6],[2145,36.6],[2150,57.4],[2155,53.0],[2160,48.0],[2165,43.4],[2170,39.2],[2175,35.0],[2180,55.4],[2185,50.6],[2190,45.8],[2195,41.4],[2200,37.4],[2205,53.0],[2210,48.4],[2215,43.8],[2220,32.6],[2225,39.6],[2230,35.6],[2235,51.0],[2240,46.4],[2245,42.0],[2250,54.2],[2255,49.2],[2260,44.6],[2265,40.2],[2270,52.4],[2275,58.0],[2278,56.4],[2280,47.6],[2200,56.6],[2120,57.8],[2060,57.0],[2000,56.4],[1960,55.6],[1920,55.8],
[2290,45.4],[2300,47.8],[2310,43.4],[2320,46.2],[2330,42.4],[2340,45.0],[2350,48.4],[2355,46.6],[2360,44.6],[2345,47.0],[2300,41.6],[2270,40.0],
[1745,27.4],[1770,25.2],[1800,25.0],[1880,26.8],[1905,24.0],[1920,22.4],[1950,26.2],[1975,25.0],[1855,30.6],
[1305,53.2],[1315,51.0],[1322,49.2],[1330,48.6],[1340,54.2],[1348,50.4],[1358,55.0],[1335,52.0],
[1400,49.0],[1415,50.6],[1432,51.4],[1445,53.6],[1458,50.2],[1466,48.6],[1478,49.0],[1488,47.4],[1495,48.2],[1440,48.4],[1470,52.4],
[1600,52.2],[1605,49.4],[1612,47.0],[1620,44.8],[1628,46.6],[1636,41.6],[1645,40.6],[1652,42.8],[1660,46.0],[1668,43.4],[1675,40.4],[1690,50.6],[1720,50.2],[1760,50.0],[1640,51.8],
[1775,42.4],[1780,40.2],[1790,41.6],[1800,39.4],[1812,40.8],[1825,38.8],[1840,37.4],[1850,34.2],[1835,43.4],[1860,39.6],[1815,44.6],[1845,48.6]]
F_BAND2 = [[1105,59.6],[1115,58.0],[1135,60.2],[1145,58.4],[1165,60.8],[1170,57.0],[1200,58.6],[1205,61.2],[1230,57.6],[1240,60.4],[1260,59.2],[1270,57.4],[1290,60.8],[1300,58.2],[1315,56.6],[1330,59.8],[1345,57.6],[1355,60.8],[1375,57.6],[1390,59.4],[1400,56.4],[1415,60.6],[1425,57.8],[1440,58.8],[1450,56.4],[1465,59.8],[1475,57.4],[1490,58.8],[1510,56.0],[1515,59.6],[1535,57.0],[1550,59.2],[1555,56.4],[1575,58.6],[1590,56.8],[1595,60.0],[1615,56.6],[1625,58.8],[1635,55.8],[1655,58.2],[1670,56.6],[1675,59.4],[1695,56.0],[1705,58.2],[1720,55.6],[1735,57.6],[1745,55.4],[1760,57.8],[1775,55.8],[1785,58.2],[1800,55.2],[1815,57.2],[1825,54.8],[1840,56.6],[1855,58.0],[1865,54.6],[1880,56.4],[1890,58.0]]
F_CLUSTER2 = [[1872,53.6],[1878,48.6],[1882,43.8],[1888,39.6],[1892,35.6],[1898,32.2],[1902,55.4],[1908,50.8],[1912,46.0],[1918,41.6],[1922,37.4],[1927,33.4],[1933,29.0],[1938,53.6],[1942,48.4],[1948,43.8],[1952,39.8],[1957,35.8],[1962,31.6],[1968,27.4],[1972,52.2],[1978,46.6],[1982,42.2],[1988,38.0],[1992,33.8],[1998,29.6],[2002,54.8],[2008,49.8],[2012,45.0],[2018,40.6],[2022,36.4],[2028,32.2],[2032,53.6],[2038,48.4],[2042,43.4],[2048,39.0],[2052,35.0],[2058,55.2],[2062,51.0],[2068,46.4],[2072,41.8],[2078,37.6],[2082,33.4],[2088,54.6],[2092,49.8],[2098,44.6],[2102,40.0],[2108,36.0],[2112,55.8],[2118,52.4],[2122,47.8],[2128,43.0],[2132,38.6],[2138,53.2],[2142,48.6],[2148,43.6],[2152,39.2],[2158,55.6],[2162,50.4],[2168,45.8],[2172,41.4],[2178,37.0],[2182,52.8],[2188,48.2],[2192,43.6],[2198,39.4],[2202,54.8],[2208,50.6],[2212,45.8],[2218,41.6],[2222,37.0],[2228,52.4],[2232,48.0],[2238,43.6],[2242,39.4],[2248,50.6],[2252,46.4],[2258,52.0],[2262,48.0],[2268,44.2],[2272,50.2],[2276,53.6],[2248,55.6],[2228,56.6],[2180,57.2],[2140,57.8],[2100,57.2],[2040,57.6],[1990,56.6],[1950,57.0],[2140,33.8],[2110,32.2],[2060,29.2],[2040,28.8],[2015,26.0],[1985,26.6],[1945,28.6]]

WEAVE_FLOWS = [0, 100, 200, 300, 400, 500]
CURVES = [WEAVE000, WEAVE100, WEAVE200, WEAVE300, WEAVE400, WEAVE500]
SIM = [A_PTS + A_BAND2 + A_CLUSTER2, B_PTS + B_BAND2 + B_CLUSTER2, C_PTS + C_BAND2 + C_CLUSTER2,
       D_PTS + D_BAND2 + D_CLUSTER2, E_PTS + E_BAND2 + E_CLUSTER2, F_PTS + F_BAND2 + F_CLUSTER2]
CURVE_NAMES = ["weave000", "weave100", "weave200", "weave300", "weave400", "weave500"]
CURVE_COLORS = ["#5B9BD5", "#ED7D31", "#A5A5A5", "#FFC000", "#4472C4", "#70AD47"]
LETTERS = ["a", "b", "c", "d", "e", "f"]
X_TICKS = [0, 500, 1000, 1500, 2000, 2500]
Y_TICKS = [0, 10, 20, 30, 40, 50, 60, 70]

# ---------------- LAYOUT GEOMETRY (target pixels in the picture) ----------------
COLS = [(58.2, 556.8), (697.3, 1193.9)]
ROWS = [(50.2, 280.9), (445.5, 676.2), (840.8, 1071.5)]
G_BOX = (378.2, 875.9, 1236.0, 1466.8)

# the page as photographed is slightly shrunk/offset; place items so they land on the target pixels
OX, SX = 3.9, 0.984
OY, SY = 7.5, 0.990

SERIF = "Liberation Serif"
CAPFONT = "DejaVu Serif Condensed, DejaVu Serif"
GRAY = "#595959"
BLUE_CAP = "#4F81BD"
ORANGE = "#ED7D31"

def px(x):
    return ((x - OX) / SX) / W

def py(y):
    return 1 - ((y - OY) / SY) / H

fig = go.Figure()
annotations = []
shapes = []
layout = {}

axis_common = dict(showline=True, linecolor="black", linewidth=1.5, mirror=True,
                   ticks="inside", ticklen=5, tickcolor="black", tickwidth=1.2,
                   showgrid=False, zeroline=False,
                   tickfont=dict(family=SERIF, size=15, color=GRAY))

def add_axes(idx, l, r, t, b):
    sfx = "" if idx == 1 else str(idx)
    layout["xaxis" + sfx] = dict(axis_common, domain=[px(l), px(r)], range=[0, 2500],
                                 tickvals=X_TICKS, anchor="y" + sfx, ticklabelstandoff=4)
    layout["yaxis" + sfx] = dict(axis_common, domain=[py(b), py(t)], range=[0, 70],
                                 tickvals=Y_TICKS, anchor="x" + sfx, ticklabelstandoff=9)
    annotations.append(dict(text="Volume (pcu/h/lane)", x=px((l + r) / 2), y=py(b + 41),
                            xref="paper", yref="paper", showarrow=False,
                            xanchor="center", yanchor="middle",
                            font=dict(family=SERIF, size=16, color=GRAY)))
    annotations.append(dict(text="Speed (mph)", x=px(l - 41), y=py((t + b) / 2),
                            xref="paper", yref="paper", showarrow=False, textangle=-90,
                            xanchor="center", yanchor="middle",
                            font=dict(family=SERIF, size=16, color=GRAY)))
    return "x" + sfx, "y" + sfx

for i in range(6):
    col = i % 2
    row = i // 2
    l, r = COLS[col]
    t, b = ROWS[row]
    xa, ya = add_axes(i + 1, l, r, t, b)
    leg = "legend" if i == 0 else "legend" + str(i + 1)
    pts = SIM[i]
    fig.add_trace(go.Scatter(
        x=[p[0] for p in pts], y=[p[1] for p in pts], mode="markers",
        name="Simulation Output", xaxis=xa, yaxis=ya, legend=leg, legendgroup="sim%d" % i,
        marker=dict(symbol="circle-open", size=9, color=ORANGE, line=dict(width=2, color=ORANGE))))
    cv = CURVES[i]
    fig.add_trace(go.Scatter(
        x=[p[0] for p in cv], y=[p[1] for p in cv], mode="lines",
        name="Van Aerde's Curve", xaxis=xa, yaxis=ya, legend=leg, legendgroup="cv%d" % i,
        line=dict(color="#2472B2" if i == 0 else "#5B9BD5", width=2.2 if i == 0 else 2.6,
                  shape="spline", smoothing=0.8)))
    leg_left = 86 if col == 0 else 724
    leg_top = t + 111.5
    layout[leg] = dict(x=px(leg_left), y=py(leg_top), xanchor="left", yanchor="top",
                       bgcolor="rgba(0,0,0,0)", tracegroupgap=7, itemwidth=30,
                       font=dict(family=SERIF, size=14, color=GRAY))
    cx = 289 if col == 0 else 927
    title = "Cross-weave  =%d, Buffer=2500ft,  GP lanes =2" % WEAVE_FLOWS[i]
    annotations.append(dict(text=title, x=px(cx), y=py(t - 33), xref="paper", yref="paper",
                            showarrow=False, xanchor="center", yanchor="middle",
                            font=dict(family=SERIF, size=23, color=GRAY)))
    cap = "(%s) Cross-weave flow=%d pcphpl" % (LETTERS[i], WEAVE_FLOWS[i])
    annotations.append(dict(text="<b>" + cap + "</b>", x=px(cx), y=py(b + 89), xref="paper", yref="paper",
                            showarrow=False, xanchor="center", yanchor="middle",
                            font=dict(family=CAPFONT, size=24.5, color=BLUE_CAP)))

# panel (g)
gl, gr, gt, gb = G_BOX
xa, ya = add_axes(7, gl, gr, gt, gb)
for k in range(6):
    cv = CURVES[k]
    fig.add_trace(go.Scatter(
        x=[p[0] for p in cv], y=[p[1] for p in cv], mode="lines", name=CURVE_NAMES[k],
        xaxis=xa, yaxis=ya, showlegend=False,
        line=dict(color=CURVE_COLORS[k], width=2.4, shape="spline", smoothing=0.8)))

# two-column legend for (g)
LEG_ROWS = [1311, 1328, 1345]
for k in range(6):
    c = k % 2
    rr = k // 2
    x0 = 426 if c == 0 else 580
    yy = LEG_ROWS[rr]
    shapes.append(dict(type="line", xref="paper", yref="paper", x0=px(x0), x1=px(x0 + 34),
                       y0=py(yy), y1=py(yy), line=dict(color=CURVE_COLORS[k], width=2.6)))
    annotations.append(dict(text=CURVE_NAMES[k], x=px(x0 + 36), y=py(yy - 1), xref="paper", yref="paper",
                            showarrow=False, xanchor="left", yanchor="middle",
                            font=dict(family=SERIF, size=15, color=GRAY)))

annotations.append(dict(text="Buffer=2500ft,  GP lanes=2", x=px(609), y=py(1201), xref="paper", yref="paper",
                        showarrow=False, xanchor="center", yanchor="middle",
                        font=dict(family=SERIF, size=23, color=GRAY)))
annotations.append(dict(text="<b>(g) Van Aerde\u2019s curves for different cross-weave flow scenarios</b>",
                        x=px(607), y=py(1556), xref="paper", yref="paper",
                        showarrow=False, xanchor="center", yanchor="middle",
                        font=dict(family=CAPFONT, size=24.5, color=BLUE_CAP)))

fig.update_layout(width=W, height=H, margin=dict(l=0, r=0, t=0, b=0, pad=0),
                  paper_bgcolor="white", plot_bgcolor="white", showlegend=True,
                  annotations=annotations, shapes=shapes, **layout)
fig.write_html("out.html")
